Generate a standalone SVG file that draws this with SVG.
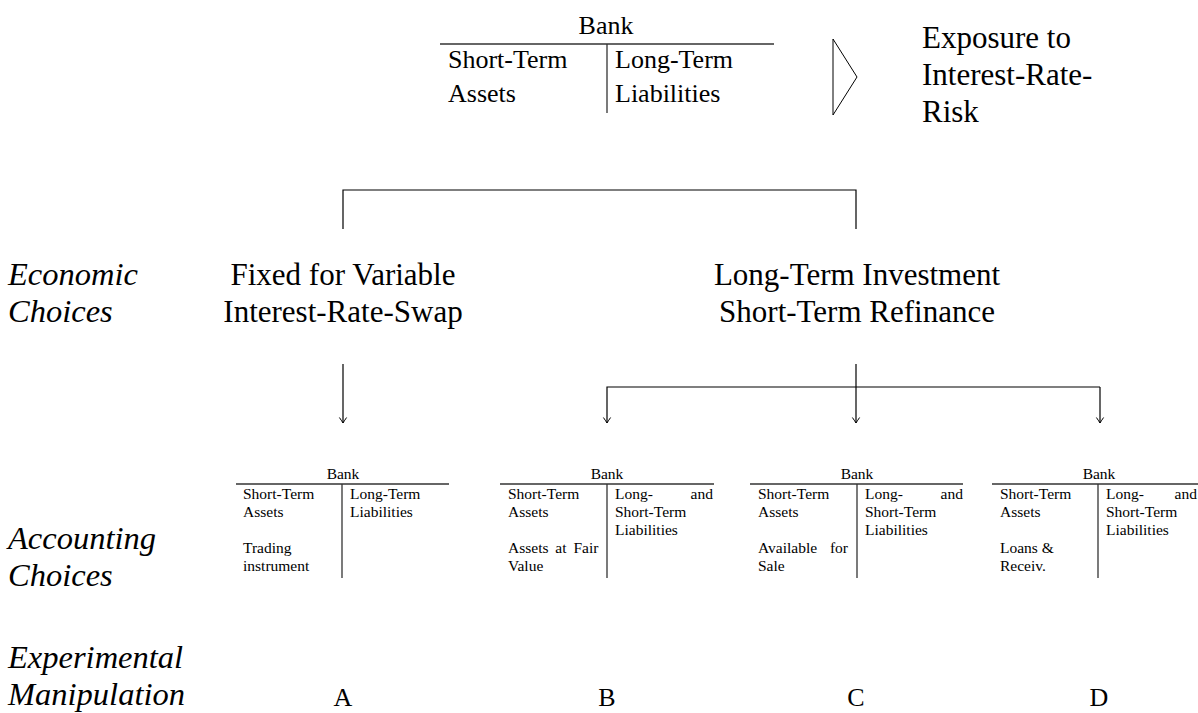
<svg xmlns="http://www.w3.org/2000/svg" width="1198" height="713" viewBox="0 0 1198 713" font-family="'Liberation Serif', 'Times New Roman', serif">
  <style>
    text { font-family: "Liberation Serif", "Times New Roman", serif; fill: #000; }
    .big { font-size: 31px; }
    .side { font-size: 32.5px; font-style: italic; }
    .mid { text-anchor: middle; }
    .end { text-anchor: end; }
    .t26 { font-size: 26px; }
    .t15 { font-size: 15.5px; }
    .rule { stroke: #333; stroke-width: 1.3; fill: none; }
    .conn { stroke: #000; stroke-width: 1.2; fill: none; }
  </style>
  <defs>
    <marker id="tip" markerUnits="userSpaceOnUse" orient="auto" refX="0" refY="0" markerWidth="10" markerHeight="10" overflow="visible">
      <path d="M -5.5 -3.6 Q -1.6 -0.9 0 0 Q -1.6 0.9 -5.5 3.6" fill="none" stroke="#000" stroke-width="1"/>
    </marker>
  </defs>
  <rect width="1198" height="713" fill="#fff"/>

  <!-- row labels -->
  <g id="row-labels">
    <text class="side" x="8" y="285">Economic</text>
    <text class="side" x="8" y="322">Choices</text>
    <text class="side" x="8" y="549">Accounting</text>
    <text class="side" x="8" y="586">Choices</text>
    <text class="side" x="8" y="668">Experimental</text>
    <text class="side" x="8" y="705">Manipulation</text>
  </g>

  <!-- top balance sheet -->
  <g id="bank-top">
    <text class="t26 mid" x="606" y="34">Bank</text>
    <line class="rule" x1="440" y1="44" x2="774" y2="44"/>
    <line class="rule" x1="607" y1="44" x2="607" y2="113"/>
    <text class="t26" x="448" y="68">Short-Term</text>
    <text class="t26" x="448" y="102">Assets</text>
    <text class="t26" x="615" y="68">Long-Term</text>
    <text class="t26" x="615" y="102">Liabilities</text>
  </g>

  <g id="exposure-arrow">
    <polygon points="833,39 857,77 833,115" fill="none" stroke="#000" stroke-width="1"/>
  </g>

  <g id="exposure">
    <text class="big" x="922" y="48">Exposure to</text>
    <text class="big" x="922" y="85">Interest-Rate-</text>
    <text class="big" x="922" y="122">Risk</text>
  </g>

  <!-- economic choices -->
  <g id="swap">
    <text class="big mid" x="343" y="285">Fixed for Variable</text>
    <text class="big mid" x="343" y="322">Interest-Rate-Swap</text>
  </g>
  <g id="refinance">
    <text class="big mid" x="857" y="285">Long-Term Investment</text>
    <text class="big mid" x="857" y="322">Short-Term Refinance</text>
  </g>

  <!-- connectors -->
  <g id="connectors">
    <path class="conn" d="M 343 229 V 190 H 856 V 229"/>
    <path class="conn" d="M 343 364 V 423" marker-end="url(#tip)"/>
    <path class="conn" d="M 856 364 V 423" marker-end="url(#tip)"/>
    <path class="conn" d="M 1100 387 H 607 V 423" marker-end="url(#tip)"/>
    <path class="conn" d="M 1100 387 V 423" marker-end="url(#tip)"/>
  </g>

  <!-- accounting choices -->
  <g id="bank-a">
    <text class="t15 mid" x="343" y="479">Bank</text>
    <line class="rule" x1="236" y1="484" x2="449" y2="484"/>
    <line class="rule" x1="342" y1="484" x2="342" y2="578"/>
    <text class="t15" x="243" y="499">Short-Term</text>
    <text class="t15" x="243" y="517">Assets</text>
    <text class="t15" x="243" y="553">Trading</text>
    <text class="t15" x="243" y="571">instrument</text>
    <text class="t15" x="350" y="499">Long-Term</text>
    <text class="t15" x="350" y="517">Liabilities</text>
  </g>

  <g id="bank-b">
    <text class="t15 mid" x="607" y="479">Bank</text>
    <line class="rule" x1="500" y1="484" x2="714" y2="484"/>
    <line class="rule" x1="607" y1="484" x2="607" y2="578"/>
    <text class="t15" x="508" y="499">Short-Term</text>
    <text class="t15" x="508" y="517">Assets</text>
    <text class="t15" x="508" y="553" word-spacing="3">Assets at Fair</text>
    <text class="t15" x="508" y="571">Value</text>
    <text class="t15" y="499"><tspan x="615">Long-</tspan><tspan x="713" text-anchor="end">and</tspan></text>
    <text class="t15" x="615" y="517">Short-Term</text>
    <text class="t15" x="615" y="535">Liabilities</text>
  </g>

  <g id="bank-c">
    <text class="t15 mid" x="857" y="479">Bank</text>
    <line class="rule" x1="750" y1="484" x2="963" y2="484"/>
    <line class="rule" x1="857" y1="484" x2="857" y2="578"/>
    <text class="t15" x="758" y="499">Short-Term</text>
    <text class="t15" x="758" y="517">Assets</text>
    <text class="t15" y="553"><tspan x="758">Available</tspan><tspan x="848" text-anchor="end">for</tspan></text>
    <text class="t15" x="758" y="571">Sale</text>
    <text class="t15" y="499"><tspan x="865">Long-</tspan><tspan x="963" text-anchor="end">and</tspan></text>
    <text class="t15" x="865" y="517">Short-Term</text>
    <text class="t15" x="865" y="535">Liabilities</text>
  </g>

  <g id="bank-d">
    <text class="t15 mid" x="1099" y="479">Bank</text>
    <line class="rule" x1="992" y1="484" x2="1205" y2="484"/>
    <line class="rule" x1="1098" y1="484" x2="1098" y2="578"/>
    <text class="t15" x="1000" y="499">Short-Term</text>
    <text class="t15" x="1000" y="517">Assets</text>
    <text class="t15" x="1000" y="553">Loans &amp;</text>
    <text class="t15" x="1000" y="571">Receiv.</text>
    <text class="t15" y="499"><tspan x="1106">Long-</tspan><tspan x="1197" text-anchor="end">and</tspan></text>
    <text class="t15" x="1106" y="517">Short-Term</text>
    <text class="t15" x="1106" y="535">Liabilities</text>
  </g>

  <!-- experimental manipulation -->
  <g id="conditions">
    <text class="t26 mid" x="343" y="706">A</text>
    <text class="t26 mid" x="607" y="706">B</text>
    <text class="t26 mid" x="856" y="706">C</text>
    <text class="t26 mid" x="1099" y="706">D</text>
  </g>
</svg>
